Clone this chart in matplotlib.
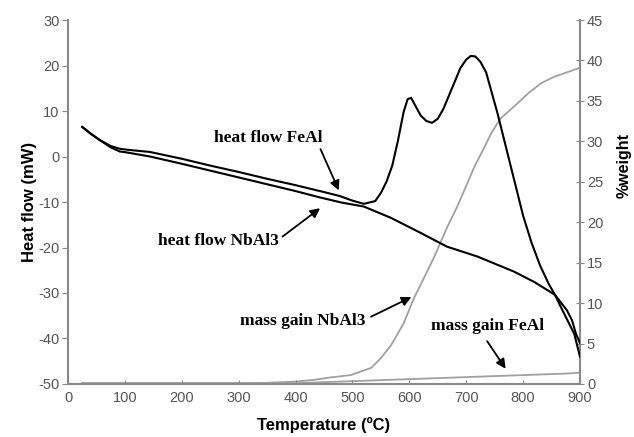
import matplotlib
matplotlib.use("Agg")
import matplotlib.pyplot as plt

plt.rcParams["axes.unicode_minus"] = False

# heat flow, NbAl3 (lower curve before 520 C, then near-linear decline)
T_nb = [25, 40, 56, 75, 91, 103, 144, 200, 250, 300, 350, 400, 443, 480, 520,
        568, 620, 666, 720, 784, 820, 856, 877, 886, 893, 900]
hf_nb = [6.5, 5.0, 3.6, 2.0, 1.1, 0.9, 0.0, -1.6, -3.1, -4.6, -6.1, -7.6, -9.0,
         -10.1, -11.0, -13.5, -16.8, -19.8, -22.0, -25.3, -27.6, -30.4, -33.8,
         -36.0, -39.0, -41.0]

# heat flow, FeAl (two exothermic peaks)
T_fe = [25, 40, 56, 75, 91, 103, 144, 200, 250, 300, 350, 400, 443, 478, 500,
        520, 540, 550, 560, 570, 580, 590, 597, 603, 610, 620, 630, 640, 650,
        660, 670, 680, 690, 700, 708, 716, 725, 735, 745, 755, 765, 775, 785,
        800, 815, 830, 845, 856, 870, 880, 890, 900]
hf_fe = [6.5, 5.0, 3.6, 2.3, 1.7, 1.5, 1.0, -0.5, -2.0, -3.4, -4.9, -6.3, -7.6,
         -8.7, -9.7, -10.4, -9.8, -8.0, -5.5, -2.0, 3.5, 9.8, 12.6, 12.9, 11.3,
         9.0, 7.8, 7.4, 8.3, 10.5, 13.5, 16.5, 19.5, 21.3, 22.1, 22.0, 20.8,
         18.5, 14.0, 9.5, 4.5, -0.5, -5.5, -13.0, -19.0, -24.0, -28.0, -30.4,
         -34.0, -36.5, -39.0, -44.0]

# mass gain (%weight)
T_mnb = [25, 100, 200, 300, 350, 400, 431, 460, 497, 533, 550, 568, 590, 608,
         625, 643, 666, 684, 700, 714, 730, 744, 760, 784, 810, 832, 855, 872, 900]
w_nb = [0.1, 0.1, 0.1, 0.1, 0.15, 0.3, 0.5, 0.8, 1.1, 2.0, 3.2, 4.8, 7.5, 10.6,
        13.0, 15.6, 19.3, 21.9, 24.5, 26.8, 29.0, 31.0, 32.8, 34.3, 36.0, 37.2,
        38.0, 38.4, 39.1]
T_mfe = [25, 200, 400, 500, 600, 700, 800, 880, 900]
w_fe = [0.1, 0.1, 0.1, 0.35, 0.6, 0.85, 1.1, 1.3, 1.4]

tick_color = "#555555"
spine_color = "#8a8a8a"
gray = "#a0a0a0"
sans = "Liberation Sans"
serif = "Liberation Serif"

fig = plt.figure(figsize=(6.34, 4.37), dpi=100)
ax = fig.add_axes([0.1073, 0.1213, 0.8075, 0.8329])
ax2 = ax.twinx()

ax2.plot(T_mnb, w_nb, color=gray, lw=1.3)
ax2.plot(T_mfe, w_fe, color=gray, lw=1.3)
ax.plot(T_nb, hf_nb, color="black", lw=1.5)
ax.plot(T_fe, hf_fe, color="black", lw=1.5)
ax.set_zorder(ax2.get_zorder() + 1)
ax.patch.set_visible(False)

ax.set_xlim(0, 900)
ax.set_ylim(-50, 30)
ax2.set_ylim(0, 45)
ax.set_xticks(range(0, 901, 100))
ax.set_yticks(range(-50, 31, 10))
ax2.set_yticks(range(0, 46, 5))

for a in (ax, ax2):
    a.spines["top"].set_visible(False)
    for s in a.spines.values():
        s.set_color(spine_color)
        s.set_linewidth(1.5)
ax.spines["right"].set_visible(False)
ax2.spines["left"].set_visible(False)
ax2.spines["bottom"].set_visible(False)

ax.tick_params(axis="y", direction="out", length=4, color=spine_color,
               labelcolor=tick_color, labelsize=10.5, pad=2)
ax.tick_params(axis="x", direction="in", length=3, color=spine_color,
               labelcolor=tick_color, labelsize=10.5, pad=5)
ax2.tick_params(axis="y", direction="inout", length=6, color=spine_color,
                labelcolor=tick_color, labelsize=10.5, pad=2)
for lab in ax.get_xticklabels() + ax.get_yticklabels() + ax2.get_yticklabels():
    lab.set_family(sans)

ax.set_xlabel("Temperature (ºC)", fontsize=12, fontweight="bold",
              family=sans, labelpad=9)
ax.set_ylabel("Heat flow (mW)", fontsize=12, fontweight="bold",
              family=sans, labelpad=1)
ax2.set_ylabel("%weight", fontsize=11.5, fontweight="bold", family=sans,
               rotation=90)
ax2.yaxis.set_label_coords(1.071, 0.60)

ann = dict(fontsize=12.5, fontweight="bold", family=serif, ha="center", va="center")
arrow = dict(arrowstyle="-|>", color="black", lw=1.3, mutation_scale=14)

ax.annotate("heat flow FeAl", xy=(478, -8), xytext=(352, 4), textcoords="data",
            arrowprops=dict(arrow, shrinkA=0, relpos=(0.97, 0.0)), **ann)
ax.annotate("heat flow NbAl3", xy=(447, -11), xytext=(264, -18.6),
            arrowprops=dict(arrow, shrinkA=1, relpos=(1.0, 0.6)), **ann)
ax2.annotate("mass gain NbAl3", xy=(608, 10.9), xytext=(413, 7.8),
             arrowprops=dict(arrow, shrinkA=2, relpos=(1.0, 0.6)), **ann)
ax2.annotate("mass gain FeAl", xy=(772, 1.6), xytext=(738, 7.2),
             arrowprops=dict(arrow, shrinkA=4, relpos=(0.45, 0.0)), **ann)

fig.savefig("out.png", dpi=100)
